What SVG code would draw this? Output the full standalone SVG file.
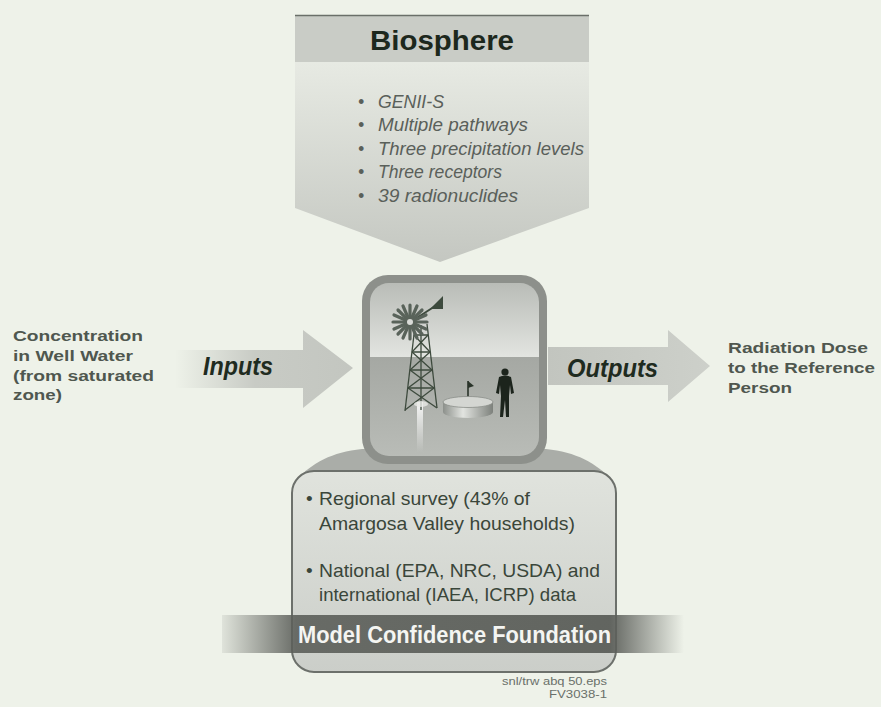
<svg xmlns="http://www.w3.org/2000/svg" width="881" height="707" viewBox="0 0 881 707">
  <defs>
    <style>
      .sans { font-family: "Liberation Sans", Arial, Helvetica, sans-serif; }
      .side { font-family: "Liberation Sans", Arial, sans-serif; font-weight: bold; font-size: 14.5px; fill: #4f574f; }
      .bio-item { font-family: "Liberation Sans", Arial, sans-serif; font-style: italic; font-size: 17.5px; fill: #5a605a; }
      .flow { font-family: "Liberation Sans", Arial, sans-serif; font-style: italic; font-weight: bold; font-size: 26px; fill: #1f2b1f; }
      .found-item { font-family: "Liberation Sans", Arial, sans-serif; font-size: 19px; fill: #3a463a; }
      .note { font-family: "Liberation Sans", Arial, sans-serif; font-size: 11px; fill: #6a706a; }
      .tower { stroke: #3d4a3d; stroke-width: 1.3; fill: none; }
    </style>
    <linearGradient id="bioBody" x1="0" y1="0" x2="0" y2="1">
      <stop offset="0" stop-color="#e7eae3"/>
      <stop offset="1" stop-color="#c4c7c1"/>
    </linearGradient>
    <linearGradient id="inBody" x1="175" y1="0" x2="353" y2="0" gradientUnits="userSpaceOnUse">
      <stop offset="0" stop-color="#c6c9c3" stop-opacity="0"/>
      <stop offset="0.45" stop-color="#c6c9c3" stop-opacity="0.95"/>
      <stop offset="1" stop-color="#c3c6c0"/>
    </linearGradient>
    <linearGradient id="outBody" x1="548" y1="0" x2="710" y2="0" gradientUnits="userSpaceOnUse">
      <stop offset="0" stop-color="#c2c5bf"/>
      <stop offset="1" stop-color="#cdd0ca"/>
    </linearGradient>
    <linearGradient id="sky" x1="0" y1="0" x2="0" y2="1">
      <stop offset="0" stop-color="#b9bcb7"/>
      <stop offset="1" stop-color="#e3e5e1"/>
    </linearGradient>
    <linearGradient id="ground" x1="0" y1="0" x2="0" y2="1">
      <stop offset="0" stop-color="#a5a8a3"/>
      <stop offset="1" stop-color="#b9bcb7"/>
    </linearGradient>
    <linearGradient id="tankSide" x1="0" y1="0" x2="1" y2="0">
      <stop offset="0" stop-color="#8c908b"/>
      <stop offset="0.4" stop-color="#e2e4e0"/>
      <stop offset="1" stop-color="#7d817c"/>
    </linearGradient>
    <linearGradient id="stream" x1="0" y1="0" x2="0" y2="1">
      <stop offset="0" stop-color="#ffffff" stop-opacity="0.9"/>
      <stop offset="1" stop-color="#ffffff" stop-opacity="0"/>
    </linearGradient>
    <linearGradient id="foundBody" x1="0" y1="0" x2="0" y2="1">
      <stop offset="0" stop-color="#e0e3dd"/>
      <stop offset="1" stop-color="#cbcec9"/>
    </linearGradient>
    <linearGradient id="band" x1="222" y1="0" x2="684" y2="0" gradientUnits="userSpaceOnUse">
      <stop offset="0" stop-color="#5c5f5a" stop-opacity="0.1"/>
      <stop offset="0.16" stop-color="#5c5f5a" stop-opacity="0.9"/>
      <stop offset="0.84" stop-color="#5c5f5a" stop-opacity="0.95"/>
      <stop offset="1" stop-color="#5c5f5a" stop-opacity="0"/>
    </linearGradient>
    <clipPath id="scene">
      <rect x="370" y="283" width="169" height="173" rx="19"/>
    </clipPath>
  </defs>

  <!-- page -->
  <rect width="881" height="707" fill="#eef2e9"/>

  <!-- Biosphere chevron -->
  <g id="biosphere">
    <path d="M295 62 H589 V208 L440 262 L295 208 Z" fill="url(#bioBody)"/>
    <rect x="295" y="15" width="294" height="47" fill="#c9ccc6"/>
    <line x1="295" y1="15.5" x2="589" y2="15.5" stroke="#6a6f69" stroke-width="1.5"/>
    <text x="370" y="50" class="sans" font-size="27" font-weight="bold" fill="#1d281d" textLength="144" lengthAdjust="spacingAndGlyphs">Biosphere</text>
    <g class="bio-item">
      <text x="358" y="108">•</text><text x="378" y="108" textLength="66" lengthAdjust="spacingAndGlyphs">GENII-S</text>
      <text x="358" y="131">•</text><text x="378" y="131" textLength="150" lengthAdjust="spacingAndGlyphs">Multiple pathways</text>
      <text x="358" y="155">•</text><text x="378" y="155" textLength="206" lengthAdjust="spacingAndGlyphs">Three precipitation levels</text>
      <text x="358" y="178">•</text><text x="378" y="178" textLength="124" lengthAdjust="spacingAndGlyphs">Three receptors</text>
      <text x="358" y="202">•</text><text x="378" y="202" textLength="140" lengthAdjust="spacingAndGlyphs">39 radionuclides</text>
    </g>
  </g>

  <!-- Source and result labels -->
  <g id="source">
    <text class="side" x="13" y="341" textLength="130" lengthAdjust="spacingAndGlyphs">Concentration</text>
    <text class="side" x="13" y="361" textLength="120" lengthAdjust="spacingAndGlyphs">in Well Water</text>
    <text class="side" x="13" y="381" textLength="141" lengthAdjust="spacingAndGlyphs">(from saturated</text>
    <text class="side" x="13" y="400" textLength="49" lengthAdjust="spacingAndGlyphs">zone)</text>
  </g>
  <g id="result">
    <text class="side" x="728" y="353" textLength="140" lengthAdjust="spacingAndGlyphs">Radiation Dose</text>
    <text class="side" x="728" y="373" textLength="147" lengthAdjust="spacingAndGlyphs">to the Reference</text>
    <text class="side" x="728" y="393" textLength="64" lengthAdjust="spacingAndGlyphs">Person</text>
  </g>

  <!-- Flow arrows -->
  <g id="connectors">
    <g id="inputs">
      <path d="M175 350 H303 V330 L353 368 L303 408 V388 H175 Z" fill="url(#inBody)"/>
      <text class="flow" x="203" y="375" textLength="70" lengthAdjust="spacingAndGlyphs">Inputs</text>
    </g>
    <g id="outputs">
      <path d="M548 347 H668 V330 L710 366 L668 402 V385 H548 Z" fill="url(#outBody)"/>
      <text class="flow" x="567" y="377" textLength="91" lengthAdjust="spacingAndGlyphs">Outputs</text>
    </g>
  </g>

  <!-- Data foundation box -->
  <g id="foundation">
    <path d="M296 480 C312 463 332 452 362 449 H546 C576 452 596 463 612 480 Z" fill="#aaada8"/>
    <rect x="292" y="471" width="324" height="201" rx="22" fill="url(#foundBody)" stroke="#6c706b" stroke-width="2"/>
    <g class="found-item">
      <text x="306" y="505">•</text>
      <text x="319" y="505" textLength="211" lengthAdjust="spacingAndGlyphs">Regional survey (43% of</text>
      <text x="319" y="530" textLength="256" lengthAdjust="spacingAndGlyphs">Amargosa Valley households)</text>
      <text x="306" y="577">•</text>
      <text x="319" y="577" textLength="281" lengthAdjust="spacingAndGlyphs">National (EPA, NRC, USDA) and</text>
      <text x="319" y="601" textLength="257" lengthAdjust="spacingAndGlyphs">international (IAEA, ICRP) data</text>
    </g>
    <rect x="222" y="615" width="462" height="38" fill="url(#band)"/>
    <text x="298" y="643" class="sans" font-size="24" font-weight="bold" fill="#f4f5f2" textLength="313" lengthAdjust="spacingAndGlyphs">Model Confidence Foundation</text>
  </g>

  <!-- Model scene: windmill, tank and person -->
  <g id="model">
    <rect x="362" y="275" width="185" height="189" rx="26" fill="#8d908b"/>
    <g clip-path="url(#scene)">
      <rect x="370" y="283" width="169" height="75" fill="url(#sky)"/>
      <rect x="370" y="357" width="169" height="100" fill="url(#ground)"/>
      <!-- water stream -->
      <rect x="417" y="402" width="6" height="50" fill="url(#stream)"/>
      <!-- tower -->
      <g class="tower">
        <line x1="415" y1="326" x2="405" y2="411"/>
        <line x1="427" y1="324" x2="437" y2="408"/>
        <line x1="421" y1="325" x2="421" y2="410"/>
        <line x1="414" y1="335" x2="428" y2="335"/>
        <line x1="412" y1="352" x2="430" y2="352"/>
        <line x1="410" y1="370" x2="432" y2="370"/>
        <line x1="408" y1="388" x2="434" y2="388"/>
        <line x1="414" y1="335" x2="430" y2="352"/>
        <line x1="428" y1="335" x2="412" y2="352"/>
        <line x1="412" y1="352" x2="432" y2="370"/>
        <line x1="430" y1="352" x2="410" y2="370"/>
        <line x1="410" y1="370" x2="434" y2="388"/>
        <line x1="432" y1="370" x2="408" y2="388"/>
        <line x1="408" y1="388" x2="437" y2="408"/>
        <line x1="434" y1="388" x2="405" y2="410"/>
      </g>
      <ellipse cx="421" cy="404" rx="7" ry="3" fill="#e8eae6" opacity="0.8"/>
      <!-- tail vane -->
      <line x1="412" y1="321" x2="440" y2="303" stroke="#3d4a3d" stroke-width="2"/>
      <path d="M430 309 L443 296 L443 309 Z" fill="#3d4a3d"/>
      <!-- fan -->
      <g stroke="#59635a" stroke-width="3.2" stroke-linecap="round">
        <line x1="410" y1="305" x2="410" y2="339"/>
        <line x1="393" y1="322" x2="427" y2="322"/>
        <line x1="398" y1="310" x2="422" y2="334"/>
        <line x1="422" y1="310" x2="398" y2="334"/>
        <line x1="403" y1="306" x2="417" y2="338"/>
        <line x1="417" y1="306" x2="403" y2="338"/>
        <line x1="394" y1="315" x2="426" y2="329"/>
        <line x1="394" y1="329" x2="426" y2="315"/>
      </g>
      <circle cx="410" cy="322" r="3" fill="#d9dbd7"/>
      <!-- small vent pipe and flag -->
      <line x1="468" y1="381" x2="468" y2="400" stroke="#2a342a" stroke-width="1.6"/>
      <path d="M468 381 L474 386 L468 388 Z" fill="#2a342a"/>
      <!-- tank -->
      <path d="M443 402 V412 A25 6 0 0 0 493 412 V402 Z" fill="url(#tankSide)"/>
      <ellipse cx="468" cy="402" rx="25" ry="5.5" fill="#d4d6d2" stroke="#8a8e89" stroke-width="0.8"/>
      <!-- person -->
      <g fill="#1c241c">
        <circle cx="505" cy="372" r="3.6"/>
        <path d="M499 377 Q505 374 511 377 L514 393 L511 394 L510 385 L509 396 L509 417 L506 417 L505 400 L503 417 L500 417 L501 396 L500 385 L499 394 L496 393 Z"/>
      </g>
    </g>
  </g>

  <!-- file reference -->
  <g id="file-ref">
    <text class="note" x="607" y="685" text-anchor="end" textLength="105" lengthAdjust="spacingAndGlyphs">snl/trw abq 50.eps</text>
    <text class="note" x="607" y="698" text-anchor="end" textLength="58" lengthAdjust="spacingAndGlyphs">FV3038-1</text>
  </g>
</svg>
